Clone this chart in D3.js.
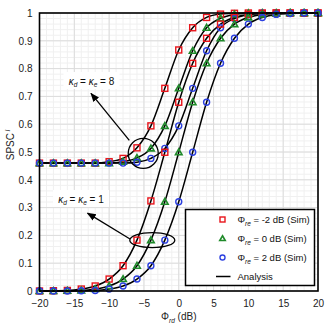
<!DOCTYPE html>
<html>
<head>
<meta charset="utf-8">
<script src="https://cdn.jsdelivr.net/npm/d3@7"></script>
<style>
  body { margin: 0; background: #fff; }
  svg { display: block; font-family: "Liberation Sans", Arial, sans-serif; }
</style>
</head>
<body>
<div id="chart"></div>
<script>
// x positions (dB)
var phiRd = [-20, -18, -16, -14, -12, -10, -8, -6, -4, -2, 0, 2, 4, 6, 8, 10, 12, 14, 16, 18, 20];

// kappa_d = kappa_e = 8
var upperM2 = [0.46, 0.46, 0.46, 0.46, 0.46, 0.465, 0.477, 0.515, 0.594, 0.729, 0.867, 0.947, 0.984, 0.996, 0.999, 1, 1, 1, 1, 1, 1];
var upper0  = [0.46, 0.46, 0.46, 0.46, 0.46, 0.46, 0.465, 0.479, 0.513, 0.594, 0.729, 0.864, 0.947, 0.981, 0.995, 0.999, 1, 1, 1, 1, 1];
var upperP2 = [0.46, 0.46, 0.46, 0.46, 0.46, 0.46, 0.46, 0.463, 0.477, 0.513, 0.594, 0.729, 0.864, 0.947, 0.980, 0.994, 0.999, 1, 1, 1, 1];

// kappa_d = kappa_e = 1
var lowerM2 = [0, 0.001, 0.002, 0.007, 0.018, 0.043, 0.091, 0.183, 0.324, 0.499, 0.679, 0.819, 0.909, 0.960, 0.984, 0.995, 0.998, 1, 1, 1, 1];
var lower0  = [0, 0, 0.001, 0.002, 0.007, 0.018, 0.043, 0.091, 0.183, 0.321, 0.499, 0.679, 0.819, 0.909, 0.960, 0.984, 0.995, 0.998, 1, 1, 1];
var lowerP2 = [0, 0, 0, 0.001, 0.002, 0.007, 0.018, 0.043, 0.091, 0.183, 0.321, 0.499, 0.679, 0.819, 0.909, 0.960, 0.984, 0.995, 0.998, 1, 1];

var xTicks = [-20, -15, -10, -5, 0, 5, 10, 15, 20];
var yTicks = [0, 0.1, 0.2, 0.3, 0.4, 0.5, 0.6, 0.7, 0.8, 0.9, 1];
var legendLabels = ["-2 dB (Sim)", "0 dB (Sim)", "2 dB (Sim)"];

var W = 332, H = 328;
var margin = {left: 39.5, right: 14, top: 13, bottom: 37};

var svg = d3.select("#chart").append("svg")
    .attr("width", W).attr("height", H);

var x = d3.scaleLinear().domain([-20, 20]).range([margin.left, W - margin.right]);
var y = d3.scaleLinear().domain([0, 1]).range([H - margin.bottom, margin.top]);

/* grid */
var grid = svg.append("g");
grid.selectAll("line.minx").data(d3.range(-20, 21, 1)).enter().append("line")
    .attr("x1", d => x(d)).attr("x2", d => x(d))
    .attr("y1", y(0)).attr("y2", y(1))
    .attr("stroke", "#f0f0f0").attr("stroke-width", 1);
grid.selectAll("line.miny").data(d3.range(0, 51, 1)).enter().append("line")
    .attr("y1", d => y(d / 50)).attr("y2", d => y(d / 50))
    .attr("x1", x(-20)).attr("x2", x(20))
    .attr("stroke", "#f0f0f0").attr("stroke-width", 1);
grid.selectAll("line.majx").data(xTicks).enter().append("line")
    .attr("x1", d => x(d)).attr("x2", d => x(d))
    .attr("y1", y(0)).attr("y2", y(1))
    .attr("stroke", "#dcdcdc").attr("stroke-width", 1);
grid.selectAll("line.majy").data(yTicks).enter().append("line")
    .attr("y1", d => y(d)).attr("y2", d => y(d))
    .attr("x1", x(-20)).attr("x2", x(20))
    .attr("stroke", "#dcdcdc").attr("stroke-width", 1);

/* axes labels */
var xAxis = d3.axisBottom(x).tickValues(xTicks).tickSize(0).tickPadding(9);
svg.append("g").attr("transform", "translate(0," + y(0) + ")").call(xAxis)
    .call(g => g.select(".domain").remove())
    .selectAll("text").attr("font-size", 10).attr("fill", "#222")
    .attr("font-family", "Liberation Sans, Arial, sans-serif");

var yAxis = d3.axisLeft(y).tickValues(yTicks).tickSize(0).tickPadding(7)
    .tickFormat(d => d === 0 || d === 1 ? d : d3.format(".1f")(d));
svg.append("g").attr("transform", "translate(" + x(-20) + ",0)").call(yAxis)
    .call(g => g.select(".domain").remove())
    .selectAll("text").attr("font-size", 10).attr("fill", "#222")
    .attr("font-family", "Liberation Sans, Arial, sans-serif");

/* curves */
var series = [
    {vals: upperM2, color: "#e8141b", shape: "square"},
    {vals: upper0, color: "#1f8a2a", shape: "triangle"},
    {vals: upperP2, color: "#2b3fe0", shape: "circle"},
    {vals: lowerM2, color: "#e8141b", shape: "square"},
    {vals: lower0, color: "#1f8a2a", shape: "triangle"},
    {vals: lowerP2, color: "#2b3fe0", shape: "circle"}
];

var line = d3.line()
    .x((d, i) => x(phiRd[i]))
    .y(d => y(d))
    .curve(d3.curveMonotoneX);

svg.append("g").selectAll("path").data(series).enter().append("path")
    .attr("d", d => line(d.vals))
    .attr("fill", "none").attr("stroke", "#000").attr("stroke-width", 1.5);

function drawMarker(g, shape, color, size) {
    if (shape === "square") {
        g.append("rect").attr("x", -size / 2).attr("y", -size / 2)
            .attr("width", size).attr("height", size)
            .attr("fill", "none").attr("stroke", color).attr("stroke-width", 1.4);
    } else if (shape === "triangle") {
        var s = size * 0.55;
        g.append("path").attr("d", "M0," + (-s) + "L" + s + "," + (s * 0.75) + "L" + (-s) + "," + (s * 0.75) + "Z")
            .attr("fill", "none").attr("stroke", color).attr("stroke-width", 1.6);
    } else {
        g.append("circle").attr("r", size / 2)
            .attr("fill", "none").attr("stroke", color).attr("stroke-width", 1.4);
    }
}

series.forEach(function(s) {
    s.vals.forEach(function(v, i) {
        var g = svg.append("g").attr("transform", "translate(" + x(phiRd[i]) + "," + y(v) + ")");
        drawMarker(g, s.shape, s.color, 6);
    });
});

/* frame */
svg.append("rect")
    .attr("x", x(-20)).attr("y", y(1))
    .attr("width", x(20) - x(-20)).attr("height", y(0) - y(1))
    .attr("fill", "none").attr("stroke", "#000").attr("stroke-width", 1.6);

/* annotations */
var defs = svg.append("defs");
defs.append("marker").attr("id", "arr").attr("viewBox", "0 0 10 10")
    .attr("refX", 9).attr("refY", 5).attr("markerWidth", 7).attr("markerHeight", 7)
    .attr("orient", "auto")
    .append("path").attr("d", "M0,1L10,5L0,9Z").attr("fill", "#000");

svg.append("circle").attr("cx", x(-5.1)).attr("cy", y(0.495)).attr("r", 15)
    .attr("fill", "none").attr("stroke", "#000").attr("stroke-width", 1.3);
svg.append("ellipse").attr("cx", x(-3.8)).attr("cy", y(0.183)).attr("rx", 22.5).attr("ry", 7.5)
    .attr("fill", "none").attr("stroke", "#000").attr("stroke-width", 1.3);

svg.append("line").attr("x1", x(-7.1)).attr("y1", y(0.542)).attr("x2", x(-12.6)).attr("y2", y(0.711))
    .attr("stroke", "#000").attr("stroke-width", 1.3).attr("marker-end", "url(#arr)");
svg.append("line").attr("x1", x(-7.0)).attr("y1", y(0.187)).attr("x2", x(-13.1)).attr("y2", y(0.28))
    .attr("stroke", "#000").attr("stroke-width", 1.3).attr("marker-end", "url(#arr)");

function kappaLabel(cx, cy, val) {
    svg.append("rect").attr("x", cx - 28).attr("y", cy - 9).attr("width", 56).attr("height", 17)
        .attr("fill", "#fff");
    var t = svg.append("text").attr("x", cx).attr("y", cy + 3.5)
        .attr("text-anchor", "middle").attr("font-size", 10).attr("fill", "#111");
    t.append("tspan").attr("font-style", "italic").text("κ");
    t.append("tspan").attr("font-size", 6.5).attr("dy", 2.5).attr("font-style", "italic").text("d");
    t.append("tspan").attr("dy", -2.5).text(" = ");
    t.append("tspan").attr("font-style", "italic").text("κ");
    t.append("tspan").attr("font-size", 6.5).attr("dy", 2.5).attr("font-style", "italic").text("e");
    t.append("tspan").attr("dy", -2.5).text(" = " + val);
}
kappaLabel(91.5, 81, "8");
kappaLabel(81, 199, "1");

/* axis titles */
var yt = svg.append("text").attr("transform", "translate(14,145) rotate(-90)")
    .attr("text-anchor", "middle").attr("font-size", 10).attr("fill", "#222");
yt.append("tspan").text("SPSC");
yt.append("tspan").attr("font-size", 6.5).attr("dy", -4).attr("font-style", "italic").text(" l");

var xt = svg.append("text").attr("x", x(0)).attr("y", 320)
    .attr("text-anchor", "middle").attr("font-size", 10).attr("fill", "#222");
xt.append("tspan").text("Φ");
xt.append("tspan").attr("font-size", 6.5).attr("dy", 2.5).attr("font-style", "italic").text("rd");
xt.append("tspan").attr("dy", -2.5).text(" (dB)");

/* legend */
var lg = svg.append("g").attr("transform", "translate(185.5,209.5)");
lg.append("rect").attr("width", 129).attr("height", 76)
    .attr("fill", "#fff").attr("stroke", "#000").attr("stroke-width", 1.5);
var legShapes = [
    {shape: "square", color: "#e8141b"},
    {shape: "triangle", color: "#1f8a2a"},
    {shape: "circle", color: "#2b3fe0"}
];
legShapes.forEach(function(s, i) {
    var ry = 10 + i * 19;
    var g = lg.append("g").attr("transform", "translate(37," + ry + ")");
    drawMarker(g, s.shape, s.color, 5);
    var t = lg.append("text").attr("x", 52).attr("y", ry + 3.5).attr("font-size", 9.5).attr("fill", "#111");
    t.append("tspan").text("Φ");
    t.append("tspan").attr("font-size", 6.5).attr("dy", 2.5).attr("font-style", "italic").text("re");
    t.append("tspan").attr("dy", -2.5).text(" = " + legendLabels[i]);
});
lg.append("line").attr("x1", 30.5).attr("x2", 45).attr("y1", 67).attr("y2", 67)
    .attr("stroke", "#000").attr("stroke-width", 1.5);
lg.append("text").attr("x", 52).attr("y", 70.5).attr("font-size", 9.5).attr("fill", "#111").text("Analysis");
</script>
</body>
</html>
